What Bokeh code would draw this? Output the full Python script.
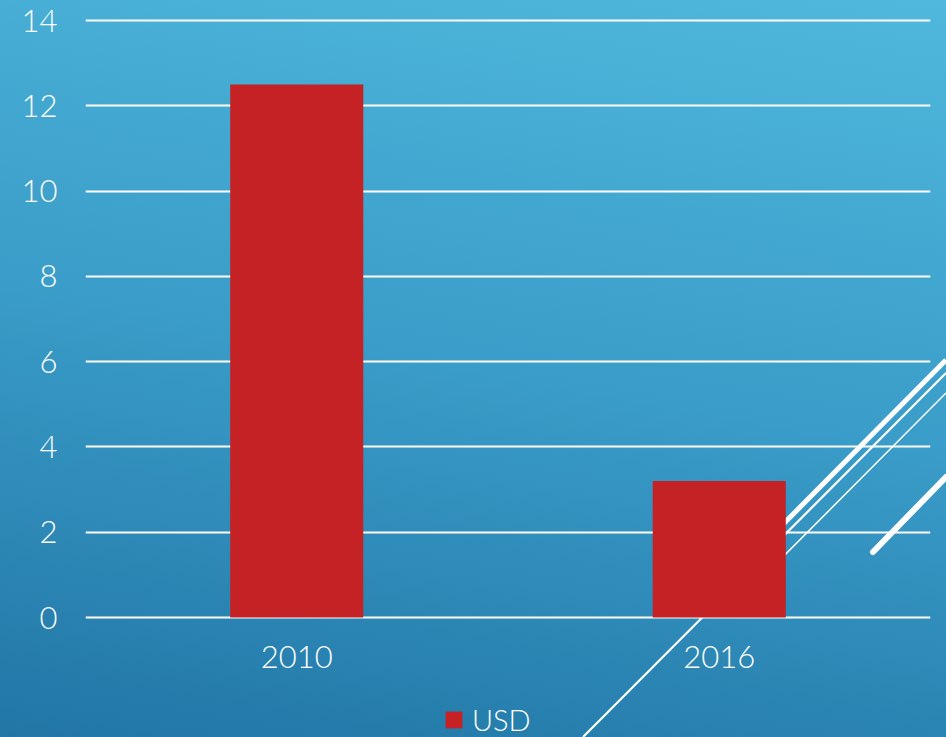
from urllib.parse import quote
from bokeh.plotting import figure
from bokeh.models import FactorRange, Range1d, FixedTicker, Legend, LegendItem, ColumnDataSource
from bokeh.embed import file_html
from bokeh.resources import INLINE

# ---- data ----
years = ["2010", "2016"]
usd = [12.5, 3.2]
y_ticks = [0, 2, 4, 6, 8, 10, 12, 14]
series_name = "USD"

# ---- style ----
W, H = 946, 737
FONT = "Lato Light, Lato"
BAR = "#C42224"

# decorative theme background (gradient + white slash lines)
deco = [
    (700, 608, 946, 360, 5, "butt"),
    (583, 737, 946, 373, 2.2, "butt"),
    (730, 610, 946, 393, 1.5, "butt"),
    (873, 552, 946, 477, 6, "round"),
]
svg = f'<svg xmlns="http://www.w3.org/2000/svg" width="{W}" height="{H}">'
for x1, y1, x2, y2, w, cap in deco:
    svg += (f'<line x1="{x1}" y1="{y1}" x2="{x2}" y2="{y2}" stroke="white" '
            f'stroke-width="{w}" stroke-linecap="{cap}"/>')
svg += "</svg>"
bg = ('url("data:image/svg+xml,' + quote(svg) + '"), '
      'linear-gradient(190deg, #4FB8DC 0%, #3A9CC8 50%, #2176A6 100%)')

source = ColumnDataSource(dict(x=years, top=usd))

p = figure(width=W, height=H, x_range=FactorRange(*years, range_padding=0),
           y_range=Range1d(-2.814, 14.094), output_backend="svg", toolbar_location=None,
           min_border_left=85, min_border_right=16, min_border_top=16,
           min_border_bottom=0)
p.styles = {"background-image": bg, "background-size": f"{W}px {H}px",
            "background-repeat": "no-repeat"}
p.border_fill_color = None
p.background_fill_color = None
p.outline_line_color = None

r = p.vbar(x="x", top="top", bottom=0, width=0.315, source=source,
           fill_color=BAR, line_color=None)

# axes
p.yaxis.ticker = FixedTicker(ticks=y_ticks)
p.xaxis.fixed_location = 0
for ax in (p.xaxis, p.yaxis):
    ax.axis_line_color = None
    ax.major_tick_line_color = None
    ax.minor_tick_line_color = None
    ax.major_tick_out = 0
    ax.major_tick_in = 0
    ax.major_label_text_color = "white"
    ax.major_label_text_font = FONT
    ax.major_label_text_font_size = "31px"
p.yaxis.major_label_standoff = 28
p.xaxis.major_label_standoff = 28

p.xgrid.grid_line_color = None
p.ygrid.grid_line_color = "white"
p.ygrid.grid_line_width = 2
p.ygrid.ticker = FixedTicker(ticks=y_ticks)

legend = Legend(items=[LegendItem(label=series_name, renderers=[r])],
                location=(358, 0), orientation="horizontal",
                padding=0, margin=0, glyph_width=21, glyph_height=21,
                label_height=21, label_standoff=8, label_text_color="white",
                label_text_font=FONT, label_text_font_size="29px",
                background_fill_alpha=0, border_line_alpha=0)
p.add_layout(legend)

open("out.html", "w").write(file_html(p, INLINE))
